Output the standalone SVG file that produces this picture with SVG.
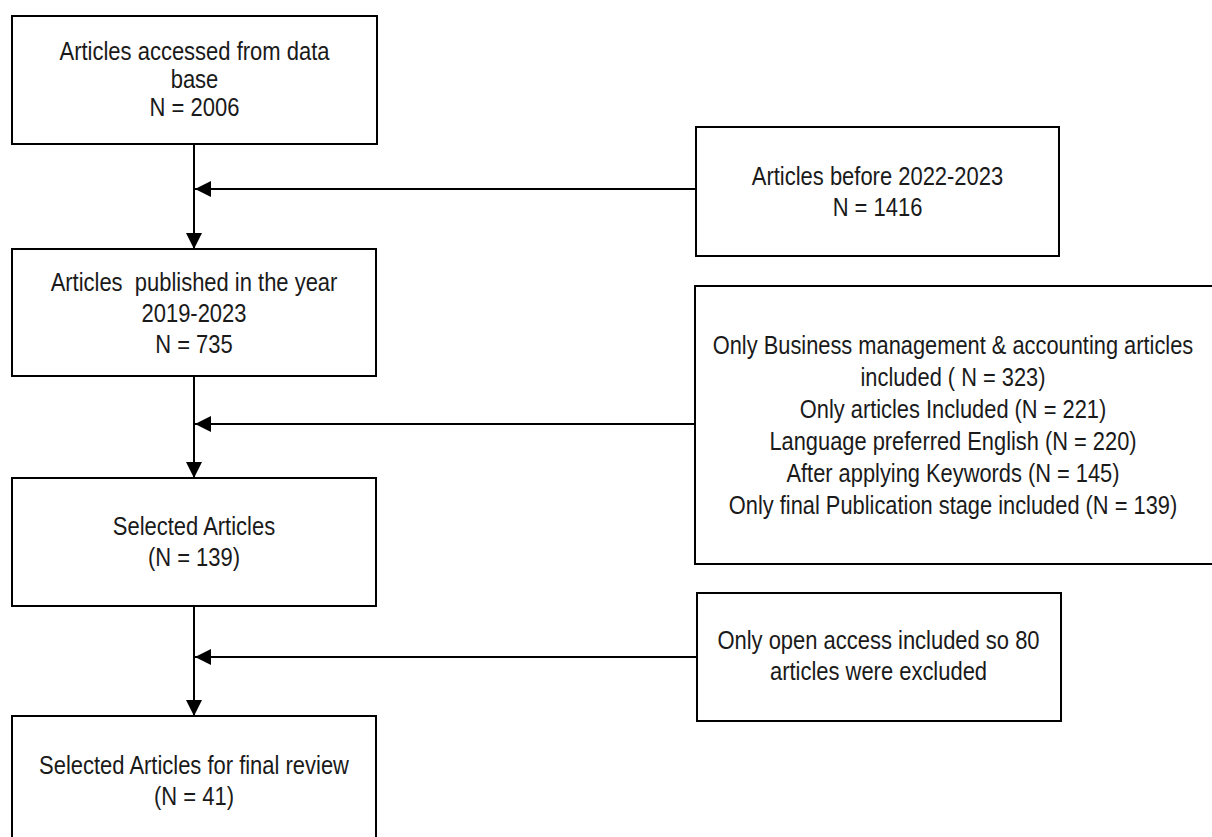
<svg xmlns="http://www.w3.org/2000/svg" width="1212" height="837" viewBox="0 0 1212 837">
  <style>
    .box { fill: #ffffff; stroke: #000000; stroke-width: 2; }
    .lbl { font-family: "Liberation Sans", Arial, sans-serif; font-size: 26px; fill: #1a1a1a; text-anchor: middle; }
    .tight { font-size: 25px; }
    .conn { fill: none; stroke: #000000; stroke-width: 2; }
  </style>
  <defs>
    <marker id="arrow" markerUnits="userSpaceOnUse" viewBox="0 0 16 16" refX="16" refY="8" markerWidth="16" markerHeight="16" orient="auto">
      <polygon points="0,0 16,8 0,16" fill="#000000"/>
    </marker>
  </defs>
  <rect width="1212" height="837" fill="#ffffff"/>

  <g id="connectors">
    <line class="conn" x1="194" y1="144" x2="194" y2="249" marker-end="url(#arrow)"/>
    <line class="conn" x1="696" y1="189" x2="195" y2="189" marker-end="url(#arrow)"/>
    <line class="conn" x1="194" y1="376" x2="194" y2="478" marker-end="url(#arrow)"/>
    <line class="conn" x1="695" y1="424" x2="195" y2="424" marker-end="url(#arrow)"/>
    <line class="conn" x1="194" y1="606" x2="194" y2="716" marker-end="url(#arrow)"/>
    <line class="conn" x1="697" y1="657" x2="195" y2="657" marker-end="url(#arrow)"/>
  </g>

  <g id="node-database">
    <rect class="box" x="12" y="16" width="365" height="128"/>
    <g transform="translate(194.5 0) scale(0.88 1)">
      <text class="lbl tight" x="0" y="60">Articles accessed from data</text>
      <text class="lbl tight" x="0" y="88">base</text>
      <text class="lbl tight" x="0" y="116">N = 2006</text>
    </g>
  </g>

  <g id="node-before">
    <rect class="box" x="696" y="127" width="363" height="129"/>
    <g transform="translate(877.5 0) scale(0.845 1)">
      <text class="lbl" x="0" y="185">Articles before 2022-2023</text>
      <text class="lbl" x="0" y="216">N = 1416</text>
    </g>
  </g>

  <g id="node-published">
    <rect class="box" x="12" y="249" width="364" height="127"/>
    <g transform="translate(194 0) scale(0.845 1)">
      <text class="lbl" x="0" y="291" xml:space="preserve">Articles  published in the year</text>
      <text class="lbl" x="0" y="322">2019-2023</text>
      <text class="lbl" x="0" y="353">N = 735</text>
    </g>
  </g>

  <g id="node-filters">
    <rect class="box" x="695" y="286" width="520" height="278"/>
    <g transform="translate(953 0) scale(0.84 1)">
      <text class="lbl" x="0" y="354">Only Business management &amp; accounting articles</text>
      <text class="lbl" x="0" y="386">included ( N = 323)</text>
      <text class="lbl" x="0" y="418">Only articles Included (N = 221)</text>
      <text class="lbl" x="0" y="450">Language preferred English (N = 220)</text>
      <text class="lbl" x="0" y="482">After applying Keywords (N = 145)</text>
      <text class="lbl" x="0" y="514">Only final Publication stage included (N = 139)</text>
    </g>
  </g>

  <g id="node-selected">
    <rect class="box" x="12" y="478" width="364" height="128"/>
    <g transform="translate(194 0) scale(0.845 1)">
      <text class="lbl" x="0" y="535">Selected Articles</text>
      <text class="lbl" x="0" y="566">(N = 139)</text>
    </g>
  </g>

  <g id="node-openaccess">
    <rect class="box" x="697" y="593" width="364" height="128"/>
    <g transform="translate(878.5 0) scale(0.845 1)">
      <text class="lbl" x="0" y="649">Only open access included so 80</text>
      <text class="lbl" x="0" y="680">articles were excluded</text>
    </g>
  </g>

  <g id="node-final">
    <rect class="box" x="12" y="716" width="364" height="130"/>
    <g transform="translate(194 0) scale(0.845 1)">
      <text class="lbl" x="0" y="774">Selected Articles for final review</text>
      <text class="lbl" x="0" y="805">(N = 41)</text>
    </g>
  </g>
</svg>
